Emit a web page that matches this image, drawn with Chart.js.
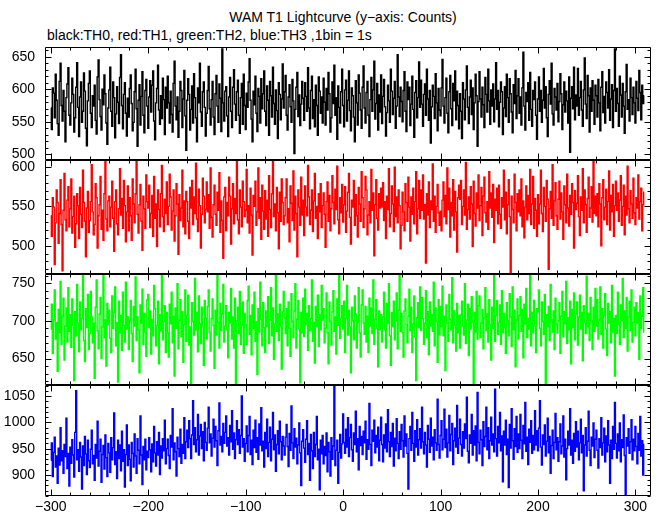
<!DOCTYPE html>
<html><head><meta charset="utf-8">
<script src="https://cdn.jsdelivr.net/npm/chart.js@4"></script>
<style>
html,body{margin:0;padding:0;background:#fff;}
#wrap{position:relative;width:661px;height:515px;overflow:hidden;background:#fff;}
canvas{position:absolute;left:0;top:0;}
.t{position:absolute;font-family:'Liberation Sans',Arial,Helvetica,sans-serif;font-size:14px;color:#000;white-space:nowrap;line-height:16px;}
</style></head><body>
<div id="wrap">
<div class="t" style="left:343px;top:9px;transform:translateX(-50%)">WAM T1 Lightcurve (y−axis: Counts)</div>
<div class="t" style="left:47px;top:27px">black:TH0, red:TH1, green:TH2, blue:TH3 ,1bin = 1s</div>
<canvas id="c0" width="661" height="515"></canvas>
<canvas id="c1" width="661" height="515"></canvas>
<canvas id="c2" width="661" height="515"></canvas>
<canvas id="c3" width="661" height="515"></canvas>
</div>
<script>
// time of first bin (s) and bin width (s)
const T0 = -300;
const BIN = 1;

const X_TICKS = [-300, -200, -100, 0, 100, 200, 300];

const TH0 = [
571,538,602,594,556,623,583,547,529,612,640,575,551,598,566,519,587,608,633,560,
545,579,617,592,534,556,603,641,572,527,588,611,549,566,625,597,540,513,582,609,
628,563,541,590,574,606,552,531,619,645,584,558,537,600,576,622,593,548,515,571,
599,634,566,543,611,587,525,562,604,580,547,618,653,575,539,592,610,563,528,586,
557,601,622,578,536,549,596,631,570,512,583,607,545,589,627,560,533,598,615,574,
540,588,613,565,606,628,551,522,579,601,637,568,546,590,555,617,584,530,603,571,
620,579,548,597,561,534,609,643,574,553,588,526,566,612,598,541,585,629,559,506,
583,616,592,537,569,605,548,624,587,556,519,602,579,640,565,543,596,611,572,528,
563,598,635,570,545,584,612,557,530,593,621,574,549,608,586,535,662,579,551,597,
604,559,527,588,618,566,541,603,630,577,552,596,614,560,532,587,609,546,623,575,
538,594,572,611,647,583,554,519,597,576,620,563,535,601,589,548,616,570,593,628,
566,544,605,583,529,612,590,557,634,578,546,599,567,524,610,592,553,585,639,571,
596,621,560,537,588,607,573,549,615,582,501,569,603,626,558,591,544,577,612,586,
552,610,589,566,633,571,539,598,620,555,584,542,606,575,529,619,597,563,588,548,
617,580,545,601,568,626,593,534,556,611,578,637,560,587,523,605,572,548,596,631,
575,542,599,614,551,583,628,567,536,602,590,557,519,613,579,545,622,594,568,540,
603,636,571,548,595,612,560,527,584,618,566,599,643,554,578,609,537,591,565,622,
547,589,615,573,528,564,606,582,549,631,597,561,586,612,540,574,653,588,558,603,
581,550,598,627,566,535,611,584,603,544,577,620,569,526,595,613,556,587,642,572,
614,577,543,592,608,560,631,585,552,598,517,573,606,589,555,624,579,536,601,568,
559,602,646,574,548,587,617,563,533,596,621,570,544,609,582,628,553,597,575,539,
593,566,524,610,585,553,599,636,572,547,588,614,561,602,538,579,623,590,512,581,
627,585,557,603,576,541,618,592,565,631,582,546,599,574,608,550,585,641,569,598,
542,580,611,596,530,571,604,558,623,587,549,616,593,565,533,607,578,629,555,590,
616,563,588,545,602,657,574,537,595,581,610,552,626,569,543,598,584,611,560,523,
585,619,566,598,549,583,632,571,604,556,527,592,613,577,640,562,545,601,588,568,
609,550,581,624,593,538,576,611,565,597,582,548,619,503,586,604,570,634,553,591,
574,632,560,587,612,568,543,599,648,577,555,621,590,534,602,566,613,583,546,606,
590,557,615,579,536,603,627,564,589,548,611,595,571,630,552,585,607,541,598,662,
566,601,578,543,620,591,557,609,574,532,596,638,569,584,551,617,587,561,603,579,
548,612,586,567,629,595,553,606,578,590
];

const TH1 = [
538,512,561,549,476,529,571,555,503,541,584,527,468,545,592,533,519,558,575,524,
547,585,516,537,563,498,528,566,551,509,574,540,523,596,555,531,486,548,569,517,
532,556,603,543,514,527,579,561,497,538,552,588,521,545,507,566,609,534,519,557,
563,524,549,582,535,493,556,571,528,514,547,598,539,560,522,583,551,505,543,576,
519,561,538,507,585,553,529,566,612,540,516,552,578,531,494,563,547,522,590,556,
548,577,523,541,564,512,588,535,553,499,571,546,524,566,602,537,518,559,541,581,
527,550,591,562,520,544,571,506,538,579,553,489,565,532,548,596,524,557,515,569,
556,531,509,574,548,583,527,562,541,605,534,518,572,551,497,540,586,563,529,546,
581,543,565,522,599,536,511,552,577,540,526,568,545,593,517,557,532,484,562,574,
519,555,538,587,563,502,547,579,528,560,541,607,533,515,571,549,524,582,556,537,
545,597,529,551,516,573,539,488,564,550,582,526,543,599,535,561,508,577,544,521,
570,534,558,512,589,546,523,566,610,537,553,519,574,542,496,568,531,585,555,527,
538,561,585,529,547,505,576,554,532,595,520,563,541,486,571,549,526,587,539,558,
513,576,549,538,602,562,527,545,571,518,557,592,535,550,509,566,543,579,523,551,
567,540,498,556,581,531,564,519,547,589,555,528,572,546,601,533,515,561,542,578,
530,552,575,517,544,568,592,536,502,558,549,583,526,565,538,511,574,553,531,594,
561,523,547,588,571,514,539,556,529,597,545,567,487,552,584,535,520,566,548,573,
549,580,532,556,509,563,546,598,524,541,576,553,518,600,537,562,529,571,551,496,
526,568,543,519,579,555,531,587,549,506,562,540,573,528,556,594,515,547,583,535,
571,545,590,534,552,478,566,539,581,523,557,546,604,531,563,517,550,578,542,526,
544,519,558,581,537,564,528,599,546,573,511,555,538,584,520,569,543,492,561,577,
559,583,527,550,571,539,606,521,546,562,534,575,553,499,582,541,525,567,548,590,
532,551,574,513,563,587,542,530,556,521,594,548,567,536,578,504,559,545,573,528,
577,540,522,561,549,596,533,568,515,552,584,537,466,563,546,529,591,555,519,566,
543,571,538,585,524,557,510,549,576,533,564,541,597,527,553,588,522,560,545,512,
565,528,553,596,541,518,574,550,531,583,559,470,547,569,535,603,526,557,580,538,
521,559,582,534,567,543,508,576,552,529,591,548,525,564,540,579,555,497,570,546,
554,589,537,513,562,545,598,529,571,552,517,560,587,536,548,575,530,609,541,563,
538,566,524,579,553,500,561,584,533,549,572,527,556,595,520,564,543,578,512,551,
582,545,567,531,558,589,526,550,577,514,563,539,601,547,529,570,553,535,586,542,
527,561,548,590,534,556,573,519,552,568
];

const TH2 = [
689,722,657,701,741,676,698,633,715,684,752,669,706,730,648,693,717,672,744,686,
708,665,729,694,621,712,680,748,697,659,725,688,703,770,674,646,716,691,735,662,
683,739,705,671,697,624,718,754,687,663,709,731,650,692,766,678,701,640,723,695,
714,677,658,733,690,711,745,667,698,619,726,684,707,661,738,694,672,751,689,705,
662,700,727,683,646,719,693,758,674,705,688,631,721,697,742,669,710,685,653,728,
735,691,713,656,702,680,747,716,667,694,726,643,708,687,763,675,699,720,658,711,
684,652,722,696,738,671,706,627,717,690,749,663,701,728,679,712,645,695,741,673,
707,734,668,692,615,724,699,681,756,688,711,659,733,696,670,718,692,641,727,703,
676,719,741,685,660,703,729,694,637,714,681,767,698,664,723,687,709,748,672,693,
720,688,651,711,697,743,676,705,664,730,612,700,718,683,739,669,694,725,657,710,
695,669,727,746,682,707,655,721,690,738,673,699,629,716,685,751,702,667,724,691,
658,713,692,732,670,701,744,680,717,649,696,761,686,709,674,722,693,636,712,739,
704,683,716,667,725,690,653,736,699,678,713,749,664,702,727,689,618,711,684,730,
679,742,695,710,661,720,687,703,754,673,698,644,719,692,734,666,708,688,747,701,
716,671,690,737,684,643,725,699,668,712,740,686,705,656,729,694,763,677,703,720,
689,726,658,703,747,681,714,692,631,718,700,675,733,709,664,698,744,684,652,721,
741,697,682,719,672,706,658,730,693,717,683,754,669,702,728,690,639,713,688,708,
672,705,738,688,664,723,697,749,680,641,711,692,726,675,700,737,663,714,770,686,
710,684,652,713,729,695,671,706,742,687,718,658,696,733,679,621,704,724,691,745,
687,731,703,669,697,740,678,712,655,725,693,708,686,751,667,717,699,645,728,681,
719,692,746,680,706,634,721,697,673,735,702,688,757,671,713,694,660,723,684,707,
664,708,726,693,681,749,670,701,722,654,716,689,732,698,617,711,685,739,676,720,
733,678,697,715,663,704,744,687,709,672,728,695,648,718,690,760,673,707,727,682,
698,721,669,740,684,710,691,657,724,700,680,736,705,666,745,688,714,639,701,729,
676,707,732,686,715,651,722,696,743,678,703,689,768,667,711,684,727,693,658,716,
712,741,690,667,725,699,682,735,613,708,692,719,674,748,701,685,713,662,730,696,
684,700,724,657,706,739,679,712,696,752,670,704,688,726,643,715,691,737,675,709,
725,668,705,734,689,711,647,720,698,683,759,692,710,674,731,700,662,718,686,743,
693,728,676,701,745,682,716,664,707,736,689,654,723,697,712,671,747,685,703,627,
707,683,738,695,669,721,700,756,678,713,690,731,660,705,726,687,741,672,698,718,
680,724,697,711,649,733,690,706,744,685
];

const TH3 = [
928,961,897,943,972,915,936,884,951,919,990,927,946,903,958,935,1008,912,941,879,
953,922,967,938,896,981,1060,929,948,907,962,934,873,955,918,973,940,901,966,927,
914,949,985,921,937,890,958,932,1002,917,945,968,886,939,956,911,976,933,897,960,
942,905,971,929,952,1018,920,944,893,966,931,957,908,983,926,948,877,939,995,918,
957,930,889,962,941,915,978,936,903,969,947,921,1012,938,882,954,929,968,910,945,
933,971,948,906,959,925,992,942,917,963,938,981,901,955,932,969,946,1004,921,950,
968,937,912,975,953,1026,929,961,944,898,972,950,935,987,922,958,941,1009,931,963,
985,952,1003,969,931,976,1041,958,990,944,967,1015,938,974,996,950,982,927,1000,962,
947,989,1029,961,978,936,970,1006,953,992,965,918,984,1037,957,973,944,998,960,981,
1012,955,971,938,994,963,1022,949,980,931,967,1003,958,986,941,975,1050,953,969,926,
960,993,944,975,1011,939,966,920,985,952,1004,943,971,930,997,957,1028,946,964,915,
981,950,1006,935,962,991,927,968,1019,948,976,907,958,984,940,1002,963,929,973,955,
938,972,996,954,916,979,947,1031,961,931,988,953,970,921,957,999,942,880,964,986,
951,924,968,1003,939,960,890,977,946,912,981,935,958,1011,929,949,872,966,940,975,
921,954,937,980,906,962,944,898,971,930,955,1072,918,947,966,884,943,977,932,959,
1016,962,941,987,953,1009,935,971,996,948,926,980,958,1021,944,969,910,992,956,973,
939,983,961,1002,930,967,949,1036,958,918,985,964,1004,942,975,953,991,927,966,1010,
958,925,976,951,997,944,1024,963,935,981,954,998,917,970,946,1007,960,931,982,949,
996,965,934,1012,955,978,941,873,969,992,947,1019,960,926,984,953,1005,938,967,988,
951,1029,963,940,981,957,915,994,968,943,1008,955,972,929,986,961,947,1044,958,932,
975,1003,948,968,1025,952,987,934,961,1013,946,977,998,920,965,989,953,1032,941,970,
1006,958,936,982,951,997,969,1048,945,923,976,960,1015,938,984,957,993,927,1057,962,
940,985,967,918,1001,954,973,1029,948,990,931,965,1010,957,978,944,1063,969,936,992,
961,1019,946,974,887,983,957,1004,939,968,876,996,951,1026,965,930,988,954,1011,943,
978,950,1015,966,931,994,959,1038,945,972,920,987,962,1003,941,975,948,1022,957,984,
946,989,1041,953,919,976,958,995,936,964,1008,942,973,903,956,985,931,962,1017,948,
971,926,963,997,940,955,1012,934,968,891,950,983,957,1026,938,966,922,979,945,1001,
953,983,929,961,1006,942,975,870,957,990,936,964,1021,947,918,972,955,999,933,968,
985,947,913,969,952,1009,938,961,989,925,974,944,1003,957,884,966,931,992,949,1038,
960,932,978,946,999,925,967,952,1014,937,863,971,955,988,941,963,1005,929,968,946,
992,954,921,979,947,1011,936,965,900,958
];

const FONT = "'Liberation Sans', Arial, Helvetica, sans-serif";
const X_MIN = -306, X_MAX = 316;

const PANELS = [
  {values: TH0, color: '#000000', min: 491, max: 665, top: 47,  bottom: 160},
  {values: TH1, color: '#ff0000', min: 464, max: 609, top: 160, bottom: 274},
  {values: TH2, color: '#00ff00', min: 615, max: 762, top: 274, bottom: 385},
  {values: TH3, color: '#0000ff', min: 860, max: 1071, top: 385, bottom: 496}
];

const frameTicks = {
  id: 'frameTicks',
  afterDatasetsDraw(chart) {
    const {ctx, chartArea: a} = chart;
    const x = chart.scales.x, y = chart.scales.y;
    const L = Math.round(a.left) + 0.5, R = Math.round(a.right) - 0.5;
    const T = Math.round(a.top) + 0.5, B = Math.round(a.bottom) - 0.5;
    ctx.save();
    ctx.strokeStyle = '#000';
    ctx.lineWidth = 1;
    ctx.beginPath();
    ctx.rect(L, T, R - L, B - T);
    for (let v = Math.ceil(x.min / 20) * 20; v <= x.max; v += 20) {
      const p = Math.round(x.getPixelForValue(v)) + 0.5;
      const len = (v % 100 === 0) ? 6 : 3;
      ctx.moveTo(p, B); ctx.lineTo(p, B - len);
      ctx.moveTo(p, T); ctx.lineTo(p, T + len);
    }
    for (let v = Math.ceil(y.min / 10) * 10; v <= y.max; v += 10) {
      const p = Math.round(y.getPixelForValue(v)) + 0.5;
      const len = (v % 50 === 0) ? 6 : 3;
      ctx.moveTo(L, p); ctx.lineTo(L + len, p);
      ctx.moveTo(R, p); ctx.lineTo(R - len, p);
    }
    ctx.stroke();
    ctx.restore();
  }
};

const fmt = v => (v < 0 ? '\u2212' + Math.abs(v) : String(v));

PANELS.forEach((p, k) => {
  const last = k === PANELS.length - 1;
  const pts = p.values.map((v, i) => ({x: T0 + i * BIN, y: v}));
  new Chart(document.getElementById('c' + k), {
    type: 'line',
    data: {datasets: [{data: pts, borderColor: p.color, borderWidth: 1.4, pointRadius: 0,
      stepped: 'middle', fill: false, tension: 0}]},
    options: {
      responsive: false, animation: false, devicePixelRatio: 1, events: [],
      layout: {padding: {left: 0, right: 10, top: p.top, bottom: last ? 0 : 515 - p.bottom}},
      plugins: {legend: {display: false}, tooltip: {enabled: false}, title: {display: false}},
      scales: {
        x: {
          type: 'linear', min: X_MIN, max: X_MAX, display: last,
          grid: {display: false, drawTicks: false}, border: {display: false},
          afterBuildTicks: s => { s.ticks = X_TICKS.map(v => ({value: v})); },
          ticks: {autoSkip: false, maxRotation: 0, padding: 3, color: '#000',
            font: {family: FONT, size: 14}, callback: fmt},
          afterFit: s => {
            s.height = last ? 19 : 0;
            s.paddingLeft = 0; s.paddingRight = 0;
          }
        },
        y: {
          type: 'linear', min: p.min, max: p.max,
          grid: {display: false, drawTicks: false}, border: {display: false},
          ticks: {stepSize: 50, includeBounds: false, autoSkip: false, padding: 10, color: '#000',
            font: {family: FONT, size: 14}, callback: v => String(v)},
          afterFit: s => {
            s.width = 45;
            s.paddingTop = 0; s.paddingBottom = 0;
          }
        }
      }
    },
    plugins: [frameTicks]
  });
});
</script>
</body></html>
